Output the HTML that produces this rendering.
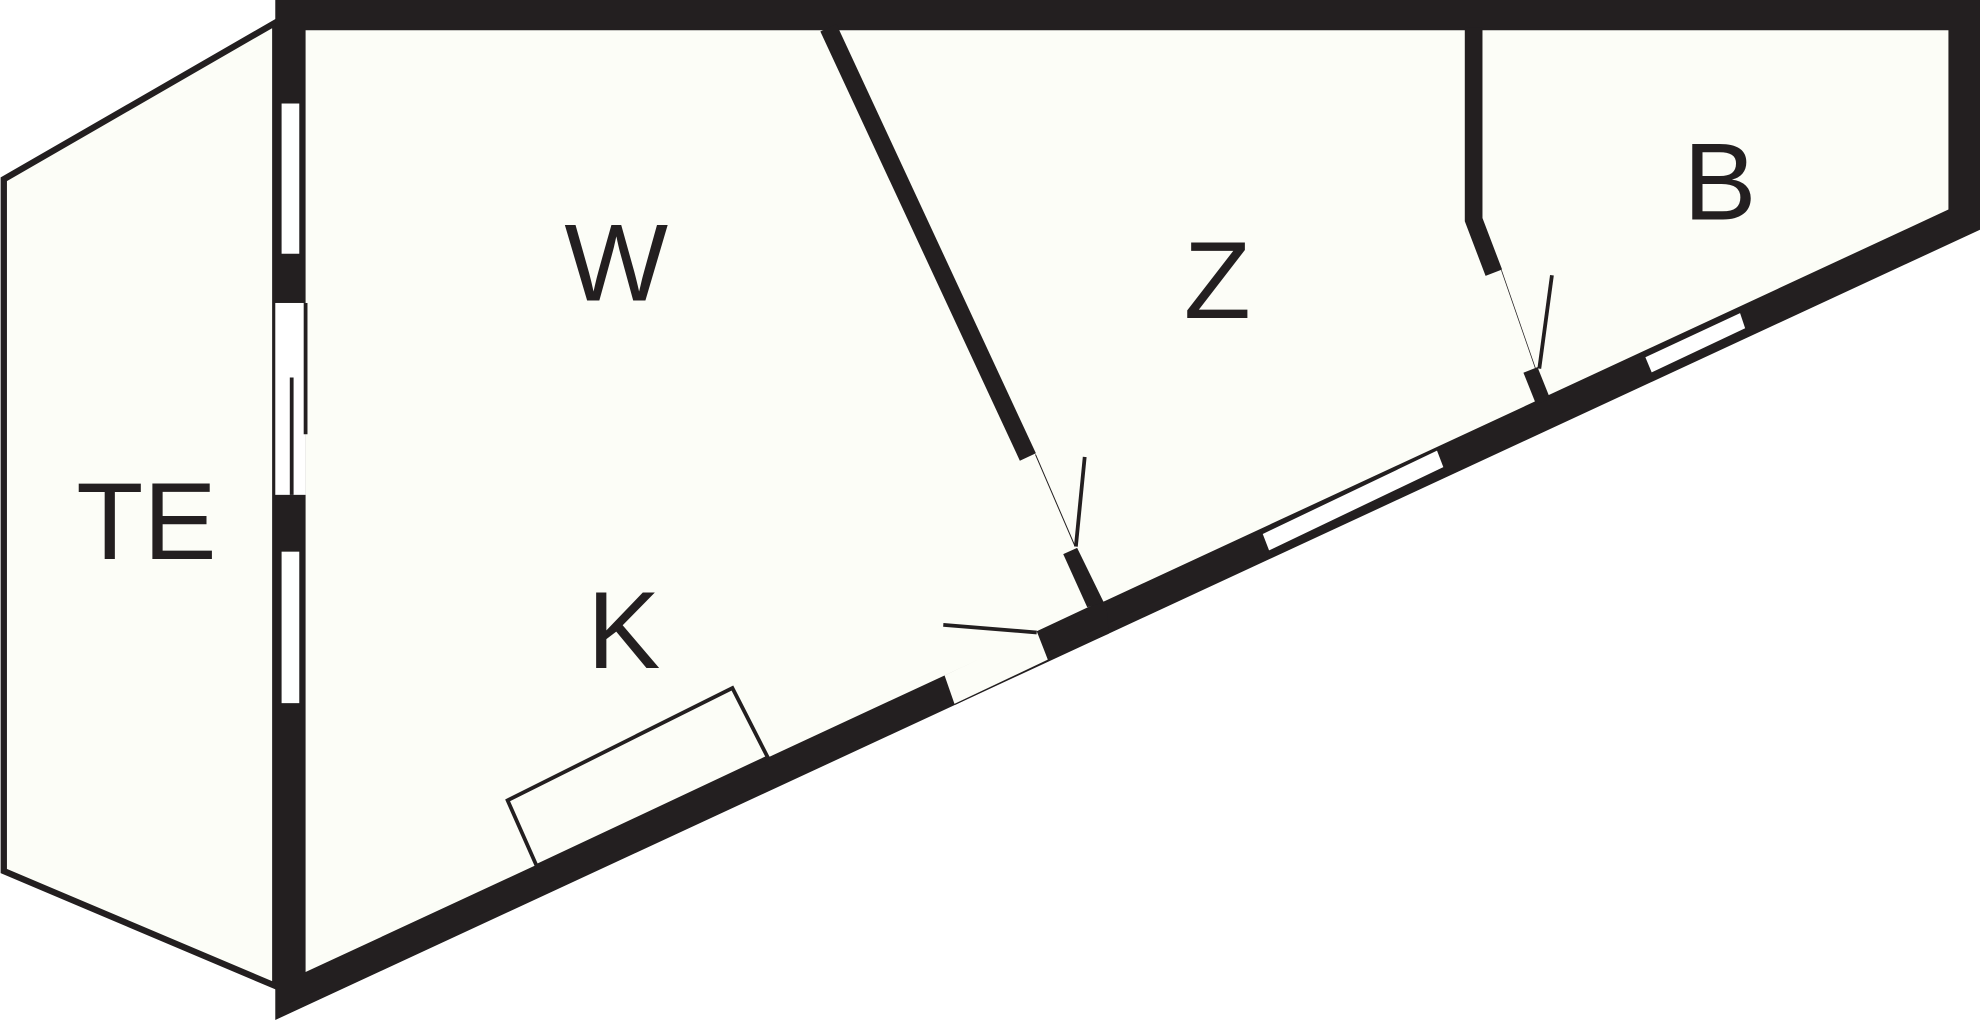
<!DOCTYPE html>
<html><head><meta charset="utf-8"><style>html,body{margin:0;padding:0;background:#fff}svg{display:block}</style></head>
<body>
<svg width="1980" height="1020" viewBox="0 0 1568 808" preserveAspectRatio="none" xmlns="http://www.w3.org/2000/svg">
<rect width="1568" height="808" fill="#fff"/>
<polygon points="3,142 218,18 218,781 3,690" fill="#fcfdf7" stroke="#231f20" stroke-width="5"/>
<polygon points="218,0 1568,0 1568,182 218,808" fill="#231f20"/>
<polygon points="242,24 1543,24 1543,166 242,770" fill="#fcfdf7"/>
<polygon points="748,535 822,500 830,523 756,558" fill="#fcfdf7"/>
<line x1="756" y1="558" x2="830" y2="523" stroke="#231f20" stroke-width="1"/>
<polygon points="821,500 866,479 876,476 878,502 830,523" fill="#231f20"/>
<polygon points="842,439 853,434 874,477 861,481" fill="#231f20"/>
<line x1="656" y1="22" x2="814" y2="362" stroke="#231f20" stroke-width="14"/>
<line x1="820" y1="360" x2="851" y2="432" stroke="#231f20" stroke-width="0.8"/>
<line x1="852" y1="433" x2="859" y2="362" stroke="#231f20" stroke-width="3"/>
<line x1="747" y1="495" x2="821" y2="501" stroke="#231f20" stroke-width="3"/>
<polyline points="1167,22 1167,174 1183,216" fill="none" stroke="#231f20" stroke-width="14"/>
<line x1="1212" y1="293" x2="1222" y2="318" stroke="#231f20" stroke-width="12"/>
<line x1="1189" y1="214" x2="1216" y2="292" stroke="#231f20" stroke-width="0.6"/>
<line x1="1219" y1="292" x2="1229" y2="218" stroke="#231f20" stroke-width="3"/>
<polygon points="1000,423 1138,357 1143,370 1005,436" fill="#fff"/>
<polygon points="1303,283 1378,248 1382,260 1308,295" fill="#fff"/>
<rect x="223" y="82" width="14" height="119" fill="#fff"/>
<rect x="223" y="437" width="14" height="120" fill="#fff"/>
<rect x="218" y="240" width="24" height="152" fill="#fff"/>
<line x1="242" y1="240" x2="242" y2="344" stroke="#231f20" stroke-width="3"/>
<line x1="231" y1="299" x2="231" y2="392" stroke="#231f20" stroke-width="3"/>
<polygon points="402,634 580,545 608,600 425,686" fill="none" stroke="#231f20" stroke-width="3"/>
<g font-family="Liberation Sans, sans-serif" font-size="87" fill="#231f20" text-anchor="middle">
<text x="488" y="238">W</text>
<text x="964" y="252">Z</text>
<text x="1362" y="174">B</text>
<text x="494" y="529">K</text>
<text x="116" y="443">TE</text>
</g>
</svg>
</body></html>
